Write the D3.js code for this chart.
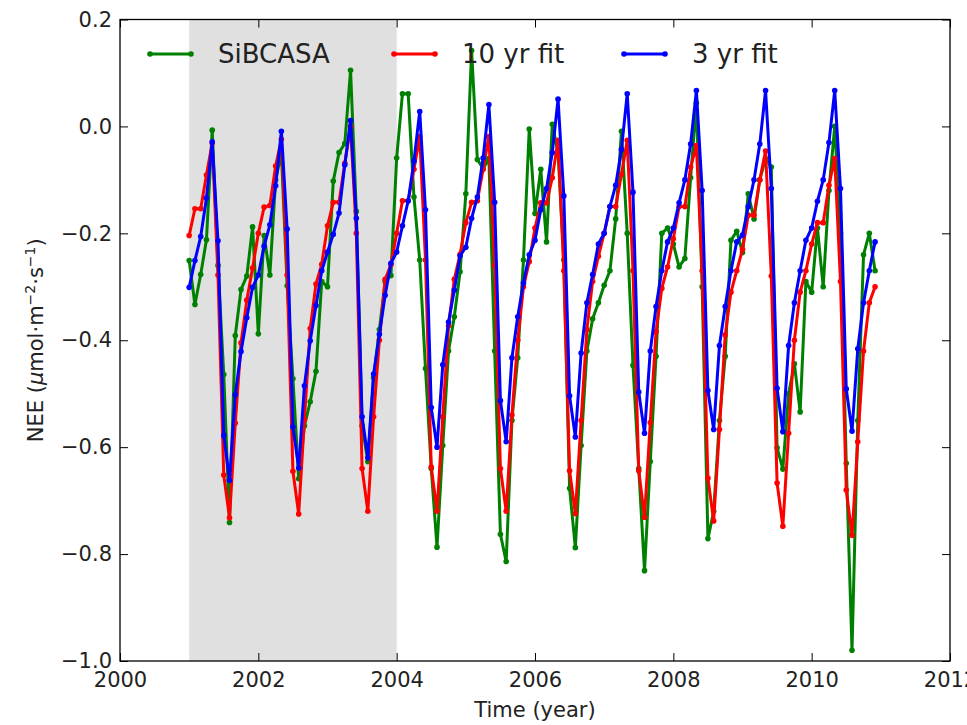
<!DOCTYPE html>
<html><head><meta charset="utf-8">
<script src="https://cdn.jsdelivr.net/npm/d3@7"></script>
<style>body{margin:0;background:#fff;} svg{display:block;font-family:"DejaVu Sans",sans-serif;}</style>
</head><body><svg id="c" width="967" height="725"></svg>
<script>
// monthly values, Jan 2001 .. Dec 2010 (one row per year)
const startYear = 2001;
const sibcasa = [
 -0.251,-0.333,-0.277,-0.212,-0.007,-0.26,-0.464,-0.741,-0.391,-0.305,-0.28,-0.188,
 -0.388,-0.204,-0.278,-0.10,-0.05,-0.298,-0.472,-0.659,-0.56,-0.515,-0.458,-0.29,
 -0.30,-0.102,-0.049,-0.032,0.105,-0.159,-0.56,-0.627,-0.47,-0.38,-0.29,-0.279,
 -0.059,0.061,0.061,-0.132,-0.25,-0.453,-0.64,-0.787,-0.597,-0.42,-0.356,-0.272,
 -0.126,0.142,-0.062,-0.079,-0.06,-0.42,-0.763,-0.814,-0.55,-0.433,-0.25,-0.005,
 -0.163,-0.080,-0.216,0.004,-0.05,-0.25,-0.677,-0.788,-0.597,-0.42,-0.36,-0.33,
 -0.297,-0.27,-0.173,-0.009,-0.2,-0.447,-0.64,-0.831,-0.627,-0.43,-0.200,-0.190,
 -0.22,-0.263,-0.247,-0.096,0.044,-0.3,-0.771,-0.72,-0.55,-0.430,-0.213,-0.196,
 -0.236,-0.126,-0.173,-0.10,-0.06,-0.076,-0.601,-0.641,-0.50,-0.444,-0.534,-0.290,
 -0.31,-0.19,-0.30,-0.12,0.0,-0.2,-0.63,-0.98,-0.55,-0.24,-0.20,-0.27
];
const fit10 = [
 -0.204,-0.154,-0.154,-0.091,-0.031,-0.278,-0.652,-0.732,-0.555,-0.405,-0.325,-0.265,
 -0.20,-0.151,-0.148,-0.074,-0.024,-0.278,-0.645,-0.725,-0.548,-0.378,-0.295,-0.258,
 -0.186,-0.142,-0.142,-0.069,0.0,-0.2,-0.640,-0.720,-0.543,-0.40,-0.286,-0.259,
 -0.20,-0.139,-0.139,-0.08,-0.019,-0.25,-0.637,-0.720,-0.543,-0.373,-0.286,-0.239,
 -0.18,-0.142,-0.139,-0.08,-0.019,-0.26,-0.640,-0.720,-0.540,-0.40,-0.30,-0.253,
 -0.190,-0.143,-0.143,-0.096,-0.026,-0.270,-0.644,-0.724,-0.550,-0.380,-0.290,-0.243,
 -0.20,-0.150,-0.150,-0.09,-0.026,-0.27,-0.644,-0.731,-0.554,-0.384,-0.303,-0.263,
 -0.21,-0.150,-0.15,-0.076,-0.036,-0.27,-0.658,-0.738,-0.567,-0.390,-0.310,-0.270,
 -0.23,-0.166,-0.166,-0.10,-0.046,-0.28,-0.667,-0.748,-0.574,-0.40,-0.31,-0.27,
 -0.22,-0.18,-0.18,-0.11,-0.06,-0.29,-0.68,-0.765,-0.59,-0.42,-0.33,-0.30
];
const fit3 = [
 -0.301,-0.251,-0.206,-0.134,-0.029,-0.214,-0.578,-0.662,-0.502,-0.421,-0.358,-0.301,
 -0.278,-0.224,-0.184,-0.111,-0.009,-0.192,-0.562,-0.639,-0.485,-0.401,-0.335,-0.27,
 -0.235,-0.202,-0.162,-0.072,0.011,-0.172,-0.543,-0.620,-0.463,-0.389,-0.316,-0.256,
 -0.235,-0.186,-0.139,-0.065,0.028,-0.156,-0.526,-0.600,-0.446,-0.366,-0.306,-0.242,
 -0.226,-0.172,-0.132,-0.059,0.041,-0.142,-0.513,-0.590,-0.433,-0.356,-0.293,-0.24,
 -0.213,-0.156,-0.116,-0.049,0.051,-0.130,-0.504,-0.581,-0.424,-0.330,-0.277,-0.220,
 -0.20,-0.15,-0.110,-0.043,0.061,-0.123,-0.497,-0.574,-0.42,-0.337,-0.27,-0.216,
 -0.19,-0.143,-0.100,-0.033,0.067,-0.120,-0.494,-0.567,-0.410,-0.337,-0.27,-0.216,
 -0.203,-0.15,-0.10,-0.033,0.067,-0.116,-0.490,-0.571,-0.410,-0.330,-0.270,-0.213,
 -0.19,-0.14,-0.10,-0.03,0.067,-0.116,-0.491,-0.570,-0.416,-0.33,-0.27,-0.216
];
const xTicks = [2000,2002,2004,2006,2008,2010,2012];
const yTicks = [-1.0,-0.8,-0.6,-0.4,-0.2,0.0,0.2];
const shadeRange = [2001, 2004];
const seriesNames = ["SiBCASA","10 yr fit","3 yr fit"];
const seriesColors = ["#008000","#ff0000","#0000ff"];

const svg = d3.select("#c");
const L=120, R=950, T=19.5, B=661;
const x = d3.scaleLinear().domain([2000,2012]).range([L,R]);
const y = d3.scaleLinear().domain([-1.0,0.2]).range([B,T]);

svg.append("defs").append("clipPath").attr("id","clip")
  .append("rect").attr("x",L).attr("y",T).attr("width",R-L).attr("height",B-T);

svg.append("rect").attr("x",x(shadeRange[0])).attr("y",T)
  .attr("width",x(shadeRange[1])-x(shadeRange[0])).attr("height",B-T)
  .attr("fill","#e0e0e0");

const allSeries = [sibcasa, fit10, fit3];
const g = svg.append("g").attr("clip-path","url(#clip)");
const line = d3.line().x(d=>x(d.t)).y(d=>y(d.v));
allSeries.forEach((vals,k)=>{
  const pts = vals.map((v,i)=>({t:startYear+i/12, v}));
  g.append("path").datum(pts).attr("d",line).attr("fill","none")
    .attr("stroke",seriesColors[k]).attr("stroke-width",3).attr("stroke-linejoin","round");
  g.selectAll(null).data(pts).enter().append("circle")
    .attr("cx",d=>x(d.t)).attr("cy",d=>y(d.v)).attr("r",2.8).attr("fill",seriesColors[k]);
});

// axes
const fmt = d3.format(".1f");
const ax = (gen,tr)=>{
  const a = svg.append("g").attr("transform",tr).call(gen);
  a.select(".domain").remove();
  a.selectAll("line").attr("stroke","#000").attr("stroke-width",1);
  a.selectAll("text").attr("font-size",21).attr("fill","#222").attr("font-family","DejaVu Sans");
  return a;
};
ax(d3.axisBottom(x).tickValues(xTicks).tickFormat(d3.format("d")).tickSize(-8).tickPadding(11),`translate(0,${B})`);
ax(d3.axisTop(x).tickValues(xTicks).tickFormat("").tickSize(-8),`translate(0,${T})`);
ax(d3.axisLeft(y).tickValues(yTicks).tickFormat(fmt).tickSize(-8).tickPadding(8),`translate(${L},0)`);
ax(d3.axisRight(y).tickValues(yTicks).tickFormat("").tickSize(-8),`translate(${R},0)`);

svg.append("rect").attr("x",L).attr("y",T).attr("width",R-L).attr("height",B-T)
  .attr("fill","none").attr("stroke","#000").attr("stroke-width",1.3);

// labels
svg.append("text").attr("x",(L+R)/2).attr("y",717).attr("text-anchor","middle")
  .attr("font-size",21).attr("fill","#222").text("Time (year)");
const yl = svg.append("text").attr("transform",`translate(43,${(T+B)/2}) rotate(-90)`)
  .attr("text-anchor","middle").attr("font-size",21).attr("fill","#222");
yl.append("tspan").text("NEE (");
yl.append("tspan").attr("font-style","italic").text("μ");
yl.append("tspan").text("mol·m");
yl.append("tspan").attr("font-size",14).attr("dy",-8).text("−2");
yl.append("tspan").attr("dy",8).text("·s");
yl.append("tspan").attr("font-size",14).attr("dy",-8).text("−1");
yl.append("tspan").attr("dy",8).text(")");

// legend
const legX = [150, 394, 624];
seriesNames.forEach((n,k)=>{
  const lg = svg.append("g");
  lg.append("line").attr("x1",legX[k]).attr("x2",legX[k]+41).attr("y1",54).attr("y2",54)
    .attr("stroke",seriesColors[k]).attr("stroke-width",3);
  [legX[k],legX[k]+41].forEach(cx=>lg.append("circle").attr("cx",cx).attr("cy",54).attr("r",2.8).attr("fill",seriesColors[k]));
  lg.append("text").attr("x",legX[k]+68).attr("y",63).attr("font-size",26).attr("fill","#222").text(n);
});
</script></body></html>
